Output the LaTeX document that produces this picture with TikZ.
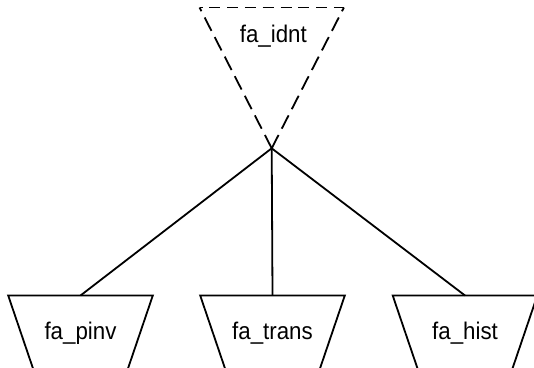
\documentclass[tikz,border=0pt]{standalone}
\usepackage{fontspec}
\setmainfont{Liberation Sans}
\begin{document}
\begin{tikzpicture}[x=1pt,y=-1pt,
  shapeline/.style={draw=black,line width=1.8pt,line join=miter},
  topdash/.style={shapeline,dash pattern=on 11pt off 6.8pt,dash phase=8pt},
  sidedash/.style={shapeline,dash pattern=on 15pt off 7pt},
  conn/.style={draw=black,line width=1.8pt},
  lbl/.style={font=\fontsize{22.3}{26}\selectfont,anchor=base,inner sep=0pt}]
\useasboundingbox (0,0) rectangle (534,367);
\clip (0,0) rectangle (534,367);
% top dashed inverted triangle
\coordinate (apex) at (271.7,148.3);
\coordinate (tl) at (199.5,7.5);
\coordinate (tr) at (343.9,7.5);
\draw[topdash] (tl) -- (tr);
\draw[sidedash] (apex) -- (tl);
\draw[sidedash] (apex) -- (tr);
\node[lbl] (idnt) at (273.3,42.3) {\scalebox{1}[1.08]{fa\_idnt}};
% bottom trapezoids (cut off by the image bottom)
\foreach \cx/\nm/\tx in {80.5/pinv/fa\_pinv, 272.5/trans/fa\_trans, 465/hist/fa\_hist}{
  \coordinate (\nm top) at (\cx,295.5);
  \draw[shapeline] (\cx-72.3+0.34*99.5,395) -- (\cx-72.3,295.5) -- (\cx+72.3,295.5) -- (\cx+72.3-0.34*99.5,395);
  \node[lbl] (\nm) at (\cx,339.5) {\scalebox{1}[1.08]{\tx}};
}
\draw[conn] (apex) -- (pinvtop);
\draw[conn] (apex) -- (transtop);
\draw[conn] (apex) -- (histtop);
\end{tikzpicture}
\end{document}
